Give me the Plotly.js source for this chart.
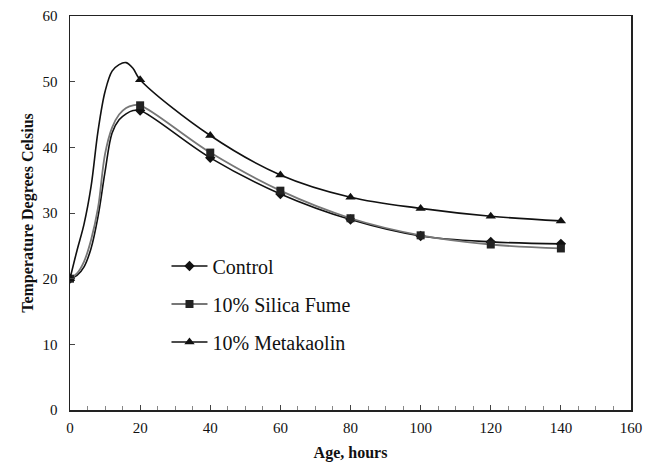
<!DOCTYPE html>
<html>
<head>
<meta charset="utf-8">
<script src="https://cdn.plot.ly/plotly-3.0.1.min.js"></script>
<style>html,body{margin:0;padding:0;background:#fff;}#chart{width:662px;height:462px;}</style>
</head>
<body>
<div id="chart"></div>
<script>
// Marker points (hours) and readings
var hours = [0, 20, 40, 60, 80, 100, 120, 140];
var control = [20, 45.6, 38.4, 32.9, 29.0, 26.5, 25.6, 25.3];
var silica = [20, 46.4, 39.2, 33.4, 29.2, 26.6, 25.2, 24.6];
var meta = [20, 50.3, 41.8, 35.8, 32.4, 30.7, 29.5, 28.8];

// Intermediate curve readings (no markers drawn)
var earlyHours = [2, 4, 6, 8, 10, 12, 14, 16, 18];
var controlEarly = [20.5, 21.8, 24.6, 29.5, 36.3, 42.2, 44.2, 45.1, 45.6];
var silicaEarly = [20.8, 22.6, 25.9, 30.8, 39.0, 43.0, 45.0, 46.0, 46.4];
var metaEarly = [24.3, 28.3, 34.0, 42.5, 48.5, 51.6, 52.6, 52.9, 52.0];

var seriesNames = ['Control', '10% Silica Fume', '10% Metakaolin'];

function merge(h, v, eh, ev, col) {
  var pts = [];
  h.forEach(function (x, i) { pts.push([x, v[i], col]); });
  eh.forEach(function (x, i) { pts.push([x, ev[i], 'rgba(0,0,0,0)']); });
  pts.sort(function (a, b) { return a[0] - b[0]; });
  return {
    x: pts.map(function (p) { return p[0]; }),
    y: pts.map(function (p) { return p[1]; }),
    c: pts.map(function (p) { return p[2]; })
  };
}

var styles = [
  {line: '#111', width: 1.6, sym: 'diamond', size: 8, mcol: '#111'},
  {line: '#777', width: 1.8, sym: 'square', size: 8, mcol: '#222'},
  {line: '#111', width: 1.6, sym: 'triangle-up', size: 9, mcol: '#111'}
];
var vals = [control, silica, meta];
var early = [controlEarly, silicaEarly, metaEarly];

var traces = vals.map(function (v, i) {
  var m = merge(hours, v, earlyHours, early[i], styles[i].mcol);
  return {
    type: 'scatter',
    mode: 'lines+markers',
    name: seriesNames[i],
    legendgroup: 'g' + i,
    x: m.x,
    y: m.y,
    line: {color: styles[i].line, width: styles[i].width, shape: 'spline', smoothing: 1},
    marker: {symbol: styles[i].sym, size: styles[i].size, color: m.c}
  };
});

var serif = 'Liberation Serif, Times New Roman, serif';
var layout = {
  width: 662,
  height: 462,
  margin: {l: 70, r: 31, t: 16, b: 52},
  paper_bgcolor: '#fff',
  plot_bgcolor: '#fff',
  font: {family: serif, color: '#111'},
  showlegend: true,
  legend: {
    x: 0.172, y: 0.415, xanchor: 'left', yanchor: 'top',
    font: {family: serif, size: 20, color: '#111'},
    bgcolor: 'rgba(0,0,0,0)',
    itemwidth: 36,
    tracegroupgap: 9
  },
  xaxis: {
    range: [0, 160], tick0: 0, dtick: 20,
    showline: true, mirror: true, linecolor: '#222', linewidth: 1.5,
    ticks: 'inside', ticklen: 5, tickcolor: '#444',
    minor: {dtick: 5, ticks: 'inside', ticklen: 4, tickcolor: '#888'},
    showgrid: false, zeroline: false,
    tickfont: {family: serif, size: 15, color: '#111'},
    ticklabelstandoff: 3,
    title: {text: '<b>Age, hours</b>', font: {family: serif, size: 16, color: '#111'}, standoff: 14}
  },
  yaxis: {
    range: [0, 60], tick0: 0, dtick: 10,
    showline: true, mirror: true, linecolor: '#222', linewidth: 1.5,
    ticks: 'inside', ticklen: 5, tickcolor: '#444',
    showgrid: false, zeroline: false,
    tickfont: {family: serif, size: 15, color: '#111'},
    ticklabelstandoff: 8,
    title: {text: '<b>Temperature Degrees Celsius</b>', font: {family: serif, size: 16, color: '#111'}, standoff: 5}
  }
};

Plotly.newPlot('chart', traces, layout, {displayModeBar: false, staticPlot: true});
</script>
</body>
</html>
